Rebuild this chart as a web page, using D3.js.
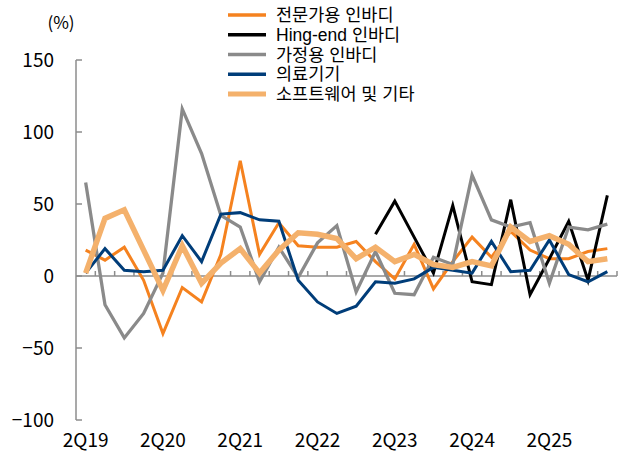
<!DOCTYPE html>
<html>
<head>
<meta charset="utf-8">
<script src="https://cdn.jsdelivr.net/npm/d3@7"></script>
<style>
  body { margin: 0; background: #fff; }
  svg { display: block; font-family: "Noto Sans CJK KR", "Noto Sans", sans-serif; }
  .legend text { font-family: "Liberation Sans", "Noto Sans CJK KR", sans-serif; }
</style>
</head>
<body>
<svg id="chart" width="624" height="455"></svg>
<script>
var quarters = [
  '2Q19', '3Q19', '4Q19', '1Q20', '2Q20', '3Q20', '4Q20', '1Q21',
  '2Q21', '3Q21', '4Q21', '1Q22', '2Q22', '3Q22', '4Q22', '1Q23',
  '2Q23', '3Q23', '4Q23', '1Q24', '2Q24', '3Q24', '4Q24', '1Q25',
  '2Q25', '3Q25', '4Q25', '1Q26'
];
var tickLabels = ['2Q19', '2Q20', '2Q21', '2Q22', '2Q23', '2Q24', '2Q25'];
var yTicks = [150, 100, 50, 0, -50, -100];

var proValues = [18, 11, 20, -3, -40, -8, -18, 15, 80, 15, 37, 21, 20, 20,
  24, 10, -2, 22, -9, 10, 27, 13, 31, 18, 12, 12, 17, 19];
var highEndValues = [null, null, null, null, null, null, null, null, null, null,
  null, null, null, null, null, 29, 52, 27, 2, 49, -4, -6, 53, -13, 12, 38, -3, 56];
var homeValues = [65, -20, -43, -26, 2, 116, 85, 42, 34, -4, 20, -1, 23, 35,
  -11, 17, -12, -13, 13, 8, 70, 39, 34, 37, -5, 34, 32, 36];
var medicalValues = [2, 19, 4, 3, 4, 28, 10, 43, 44, 39, 38, -3, -18, -26,
  -21, -4, -5, -2, 6, 4, 2, 24, 3, 4, 25, 1, -4, 3];
var softwareValues = [2, 40, 46, 18, -10, 21, -5, 9, 19, 2, 18, 30, 29, 26,
  12, 20, 10, 15, 8, 6, 10, 7, 34, 24, 28, 22, 10, 12];

var seriesNames = ['전문가용 인바디', 'Hing-end 인바디', '가정용 인바디', '의료기기', '소프트웨어 및 기타'];
var seriesColors = ['#f5821f', '#000000', '#8a8a8a', '#003d79', '#f4b16c'];
var seriesWidths = [3, 3, 3.3, 3, 5.5];
var seriesValues = [proValues, highEndValues, homeValues, medicalValues, softwareValues];

var svg = d3.select('#chart');

var x = d3.scaleBand()
  .domain(quarters)
  .range([76, 617])
  .padding(0);

var y = d3.scaleLinear()
  .domain([-100, 150])
  .range([420, 60]);

var axisColor = '#8c8c8c';

function xCenter(q) {
  return x(q) + x.bandwidth() / 2;
}

// y axis: line plus inward ticks
var yAxis = svg.append('g').attr('class', 'y-axis');
yAxis.append('line')
  .attr('x1', 76).attr('x2', 76)
  .attr('y1', y(150)).attr('y2', y(-100))
  .attr('stroke', axisColor)
  .attr('stroke-width', 1.5);

yAxis.selectAll('line.tick')
  .data(yTicks)
  .enter().append('line')
  .attr('class', 'tick')
  .attr('x1', 76).attr('x2', 82)
  .attr('y1', function(d) { return y(d); })
  .attr('y2', function(d) { return y(d); })
  .attr('stroke', axisColor)
  .attr('stroke-width', 1.5);

yAxis.selectAll('text')
  .data(yTicks)
  .enter().append('text')
  .attr('x', 54)
  .attr('y', function(d) { return y(d); })
  .attr('dy', '0.35em')
  .attr('text-anchor', 'end')
  .attr('font-size', 19)
  .attr('fill', '#000')
  .text(function(d) { return d3.format('d')(d); });

svg.append('text')
  .attr('x', 61)
  .attr('y', 23)
  .attr('dy', '0.35em')
  .attr('text-anchor', 'middle')
  .attr('font-size', 17)
  .text('(%)');

// x axis on the zero line, ticks at category boundaries
var xAxis = svg.append('g').attr('class', 'x-axis');
xAxis.append('line')
  .attr('x1', 76).attr('x2', 617)
  .attr('y1', y(0)).attr('y2', y(0))
  .attr('stroke', axisColor)
  .attr('stroke-width', 1.5);

xAxis.selectAll('line.tick')
  .data(quarters)
  .enter().append('line')
  .attr('class', 'tick')
  .attr('x1', function(d) { return x(d) + x.bandwidth(); })
  .attr('x2', function(d) { return x(d) + x.bandwidth(); })
  .attr('y1', y(0))
  .attr('y2', y(0) - 5)
  .attr('stroke', axisColor)
  .attr('stroke-width', 1.5);

xAxis.selectAll('text')
  .data(tickLabels)
  .enter().append('text')
  .attr('x', xCenter)
  .attr('y', 440)
  .attr('dy', '0.35em')
  .attr('text-anchor', 'middle')
  .attr('font-size', 19)
  .text(function(d) { return d; });

// series lines
var line = d3.line()
  .defined(function(d) { return d.v !== null; })
  .x(function(d) { return xCenter(d.q); })
  .y(function(d) { return y(d.v); });

seriesValues.forEach(function(values, i) {
  var points = values.map(function(v, j) { return { q: quarters[j], v: v }; });
  svg.append('path')
    .datum(points)
    .attr('fill', 'none')
    .attr('stroke', seriesColors[i])
    .attr('stroke-width', seriesWidths[i])
    .attr('stroke-linejoin', 'miter')
    .attr('d', line);
});

// legend
var legend = svg.append('g').attr('class', 'legend');
var legendRow = d3.scalePoint()
  .domain(seriesNames)
  .range([15, 94]);

seriesNames.forEach(function(name, i) {
  var ly = legendRow(name);
  legend.append('line')
    .attr('x1', 228).attr('x2', 266)
    .attr('y1', ly).attr('y2', ly)
    .attr('stroke', seriesColors[i])
    .attr('stroke-width', i === 4 ? 5 : 3.5);
  legend.append('text')
    .attr('x', 276)
    .attr('y', ly)
    .attr('dy', '0.35em')
    .attr('font-size', 17.5)
    .text(name);
});
</script>
</body>
</html>
